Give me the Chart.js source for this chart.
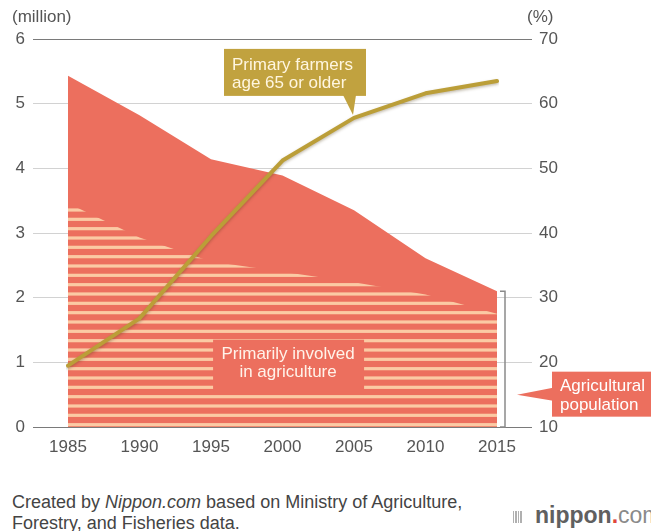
<!DOCTYPE html>
<html><head><meta charset="utf-8">
<script src="https://cdn.jsdelivr.net/npm/chart.js@4"></script>
<style>
html,body{margin:0;padding:0;background:#fff;overflow:hidden;width:651px;height:531px;}
#wrap{position:absolute;left:0;top:0;width:651px;height:470px;}
.foot{position:absolute;left:12px;top:492px;font:18px "Liberation Sans",Arial,sans-serif;color:#444;line-height:21px;white-space:nowrap;}
.logo{position:absolute;left:513px;top:502px;white-space:nowrap;font-family:"Liberation Sans",Arial,sans-serif;font-size:23px;line-height:26px;color:#666;}
.logo b{font-weight:bold;color:#606060;}
.logo .dot{color:#e0463c;font-weight:bold;}
.logo .com{color:#8a8a8a;}
.logo .ic{display:inline-block;width:10px;height:12px;margin-right:12px;background:repeating-linear-gradient(90deg,#b0b0b0 0 1.2px,transparent 1.2px 2.5px);vertical-align:middle;}
</style></head>
<body>
<div id="wrap"><canvas id="c" width="651" height="470"></canvas></div>
<div class="foot">Created by <i>Nippon.com</i> based on Ministry of Agriculture,<br>Forestry, and Fisheries data.</div>
<div class="logo"><span class="ic"></span><b>nippon</b><span class="dot">.</span><span class="com">com</span></div>
<script>
// ---- data ----
const years = ['1985','1990','1995','2000','2005','2010','2015'];
const agriculturalPopulation = [5.43, 4.82, 4.14, 3.89, 3.35, 2.61, 2.10]; // million
const primarilyInvolved = [3.46, 2.93, 2.56, 2.40, 2.24, 2.05, 1.75];       // million
const share65OrOlder = [19.5, 26.8, 39.5, 51.2, 57.8, 61.6, 63.5];          // %
const leftAxisRange = [0, 6];
const rightAxisRange = [10, 70];
const leftTitle = '(million)';
const rightTitle = '(%)';
const goldLabel = ['Primary farmers', 'age 65 or older'];
const stripeLabel = ['Primarily involved', 'in agriculture'];
const agriLabel = ['Agricultural', 'population'];

// ---- styles ----
const RED = '#ec6f5e';
const STRIPE = '#fbcaa4';
const GOLD = '#bb9e38';
const GOLDBOX = '#c1a23f';
const FONT = '"Liberation Sans", Arial, sans-serif';

function stripePattern() {
  const c = document.createElement('canvas');
  c.width = 4; c.height = 28;
  const g = c.getContext('2d');
  g.fillStyle = RED; g.fillRect(0, 0, 4, 28);
  g.fillStyle = STRIPE;
  [4.67, 14, 23.33].forEach(cy => g.fillRect(0, cy - 1.6, 4, 3.2));
  return g.createPattern(c, 'repeat');
}

const annot = {
  id: 'annot',
  beforeDatasetDraw(chart, args) {
    if (args.index === 2) {
      const ctx = chart.ctx; ctx.save();
      ctx.shadowColor = 'rgba(80,60,20,0.35)'; ctx.shadowBlur = 3; ctx.shadowOffsetY = 1.5;
    }
  },
  afterDatasetDraw(chart, args) {
    if (args.index === 2) chart.ctx.restore();
  },
  afterDraw(chart) {
    const ctx = chart.ctx, ca = chart.chartArea;
    const y = chart.scales.y;
    ctx.save();
    // axis titles
    ctx.fillStyle = '#555'; ctx.font = '17px ' + FONT; ctx.textBaseline = 'middle';
    ctx.textAlign = 'left'; ctx.fillText(leftTitle, 12, 17);
    ctx.fillText(rightTitle, 527, 17);

    // gold callout
    const meta = chart.getDatasetMeta(2);
    const p = meta.data[4];
    const tx = p.x - 1, ty = p.y - 3;
    ctx.fillStyle = GOLDBOX;
    ctx.fillRect(tx - 129, ty - 66, 142, 47);
    ctx.beginPath(); ctx.moveTo(tx - 10, ty - 20); ctx.lineTo(tx + 3, ty - 20); ctx.lineTo(tx, ty); ctx.closePath(); ctx.fill();
    ctx.fillStyle = '#fff6e0'; ctx.font = '17px ' + FONT; ctx.textAlign = 'left';
    ctx.fillText(goldLabel[0], tx - 121, ty - 50);
    ctx.fillText(goldLabel[1], tx - 121, ty - 32);

    // primarily involved box
    const cx = ca.left + (ca.right - ca.left) * 0.513;
    const by = y.getPixelForValue(1.35);
    ctx.fillStyle = RED;
    ctx.fillRect(cx - 75, by, 151, 52);
    ctx.fillStyle = '#fff3ea'; ctx.textAlign = 'center';
    ctx.fillText(stripeLabel[0], cx, by + 15);
    ctx.fillText(stripeLabel[1], cx, by + 33);

    // bracket
    const bx = ca.right + 8;
    const topY = y.getPixelForValue(agriculturalPopulation[agriculturalPopulation.length - 1]);
    const botY = y.getPixelForValue(0);
    ctx.strokeStyle = '#8a8a8a'; ctx.lineWidth = 1.5;
    ctx.beginPath();
    ctx.moveTo(bx - 5, topY); ctx.lineTo(bx, topY); ctx.lineTo(bx, botY); ctx.lineTo(bx - 5, botY);
    ctx.stroke();

    // agricultural population callout
    const px = bx + 12, py = y.getPixelForValue(0.5);
    ctx.fillStyle = RED;
    ctx.fillRect(px + 35, py - 23, 120, 45);
    ctx.beginPath(); ctx.moveTo(px, py); ctx.lineTo(px + 36, py - 7); ctx.lineTo(px + 36, py + 6); ctx.closePath(); ctx.fill();
    ctx.fillStyle = '#ffffff'; ctx.textAlign = 'left';
    ctx.fillText(agriLabel[0], px + 43, py - 8);
    ctx.fillText(agriLabel[1], px + 43, py + 11);
    ctx.restore();
  }
};

const gridColor = (hi) => (c) => (c.tick && (c.tick.value === hi[0] || c.tick.value === hi[1])) ? '#7a7a7a' : '#d2d2d2';

new Chart(document.getElementById('c'), {
  type: 'line',
  data: {
    labels: years,
    datasets: [
      { label: 'Agricultural population', data: agriculturalPopulation, yAxisID: 'y', fill: 'origin',
        backgroundColor: RED, borderWidth: 0, pointRadius: 0, tension: 0, order: 3 },
      { label: 'Primarily involved in agriculture', data: primarilyInvolved, yAxisID: 'y', fill: 'origin',
        backgroundColor: stripePattern(), borderWidth: 0, pointRadius: 0, tension: 0, order: 2 },
      { label: 'Primary farmers age 65 or older', data: share65OrOlder, yAxisID: 'y1', fill: false,
        borderColor: GOLD, borderWidth: 4, pointRadius: 0, tension: 0, borderJoinStyle: 'round', borderCapStyle: 'round', order: 1 }
    ]
  },
  options: {
    responsive: false, animation: false, devicePixelRatio: 1,
    layout: { padding: { top: 39, bottom: 0, left: 0, right: 0 } },
    plugins: { legend: { display: false }, tooltip: { enabled: false } },
    scales: {
      x: {
        offset: false,
        grid: { display: false, drawTicks: false }, border: { display: false },
        ticks: { color: '#555', font: { size: 17, family: FONT }, padding: 10, maxRotation: 0 },
        afterFit(s) { s.height = 43; }
      },
      y: {
        position: 'left', min: leftAxisRange[0], max: leftAxisRange[1],
        ticks: { stepSize: 1, color: '#555', font: { size: 17, family: FONT }, padding: 8 },
        grid: { color: gridColor(leftAxisRange), tickLength: 35, lineWidth: 1 },
        border: { display: false },
        afterFit(s) { s.width = 68; }
      },
      y1: {
        position: 'right', min: rightAxisRange[0], max: rightAxisRange[1],
        ticks: { stepSize: 10, color: '#555', font: { size: 17, family: FONT }, padding: 7 },
        grid: { drawOnChartArea: false, color: gridColor(rightAxisRange), tickLength: 35, lineWidth: 1 },
        border: { display: false },
        afterFit(s) { s.width = 154; }
      }
    }
  },
  plugins: [annot]
});
</script>
</body></html>
